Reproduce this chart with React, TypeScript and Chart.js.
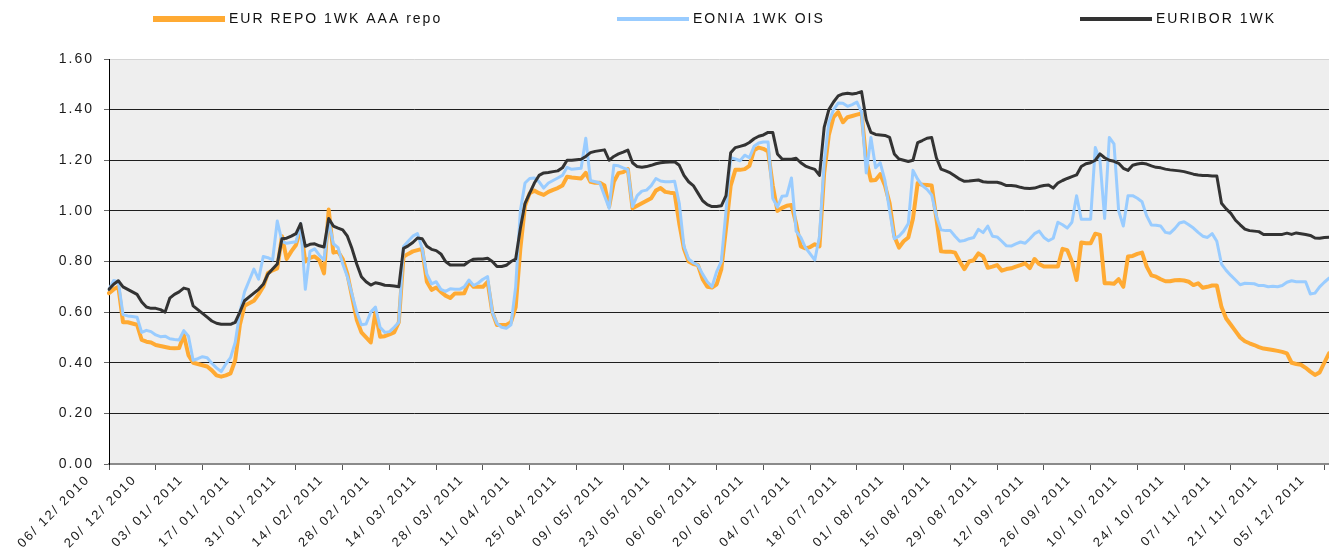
import React, { useEffect, useRef } from "react";
import { Chart, registerables } from "chart.js";

Chart.register(...registerables);

const tickLabels = [
  "06/ 12/ 2010", "20/ 12/ 2010", "03/ 01/ 2011", "17/ 01/ 2011", "31/ 01/ 2011",
  "14/ 02/ 2011", "28/ 02/ 2011", "14/ 03/ 2011", "28/ 03/ 2011", "11/ 04/ 2011",
  "25/ 04/ 2011", "09/ 05/ 2011", "23/ 05/ 2011", "06/ 06/ 2011", "20/ 06/ 2011",
  "04/ 07/ 2011", "18/ 07/ 2011", "01/ 08/ 2011", "15/ 08/ 2011", "29/ 08/ 2011",
  "12/ 09/ 2011", "26/ 09/ 2011", "10/ 10/ 2011", "24/ 10/ 2011", "07/ 11/ 2011",
  "21/ 11/ 2011", "05/ 12/ 2011",
];

const seriesNames = ["EUR REPO 1WK AAA repo", "EONIA 1WK OIS", "EURIBOR 1WK"];

const repo = [
  0.675, 0.69, 0.70, 0.56, 0.56, 0.555, 0.55, 0.49, 0.483, 0.48,
  0.47, 0.466, 0.462, 0.458, 0.457, 0.458, 0.51, 0.43, 0.40, 0.395,
  0.39, 0.385, 0.37, 0.35, 0.345, 0.35, 0.358, 0.41, 0.55, 0.625,
  0.635, 0.645, 0.67, 0.70, 0.755, 0.765, 0.773, 0.90, 0.81, 0.84,
  0.865, 0.93, 0.80, 0.815, 0.82, 0.805, 0.753, 1.005, 0.835, 0.839,
  0.81, 0.75, 0.66, 0.57, 0.52, 0.50, 0.48, 0.60, 0.503, 0.505,
  0.512, 0.52, 0.56, 0.819, 0.83, 0.84, 0.845, 0.85, 0.72, 0.688,
  0.697, 0.68, 0.665, 0.656, 0.674, 0.674, 0.675, 0.72, 0.70, 0.70,
  0.70, 0.72, 0.60, 0.549, 0.549, 0.549, 0.56, 0.62, 0.85, 1.02,
  1.07, 1.08, 1.07, 1.063, 1.075, 1.083, 1.09, 1.10, 1.135, 1.132,
  1.13, 1.128, 1.15, 1.115, 1.111, 1.111, 1.10, 1.017, 1.115, 1.149,
  1.153, 1.165, 1.01, 1.02, 1.03, 1.04, 1.05, 1.08, 1.09, 1.075,
  1.072, 1.07, 0.95, 0.85, 0.80, 0.79, 0.786, 0.73, 0.70, 0.697,
  0.71, 0.77, 0.93, 1.10, 1.162, 1.162, 1.165, 1.178, 1.24, 1.25,
  1.245, 1.235, 1.10, 1.00, 1.012, 1.02, 1.023, 0.95, 0.86, 0.852,
  0.857, 0.868, 0.86, 1.15, 1.30, 1.37, 1.39, 1.35, 1.37, 1.375,
  1.38, 1.385, 1.20, 1.12, 1.122, 1.145, 1.10, 1.03, 0.90, 0.855,
  0.88, 0.895, 0.97, 1.11, 1.103, 1.102, 1.10, 0.97, 0.84, 0.839,
  0.839, 0.835, 0.80, 0.77, 0.80, 0.805, 0.832, 0.82, 0.775, 0.78,
  0.786, 0.764, 0.77, 0.773, 0.78, 0.786, 0.793, 0.774, 0.81, 0.79,
  0.78, 0.78, 0.78, 0.78, 0.85, 0.845, 0.80, 0.727, 0.875, 0.872,
  0.872, 0.91, 0.905, 0.714, 0.714, 0.712, 0.73, 0.70, 0.82, 0.822,
  0.83, 0.835, 0.78, 0.745, 0.74, 0.73, 0.722, 0.722, 0.726, 0.727,
  0.725, 0.72, 0.707, 0.714, 0.696, 0.70, 0.705, 0.705, 0.62, 0.575,
  0.55, 0.525, 0.50, 0.485, 0.477, 0.47, 0.462, 0.456, 0.453, 0.45,
  0.447, 0.443, 0.437, 0.40, 0.395, 0.392, 0.38, 0.365, 0.352, 0.362,
  0.40, 0.437,
];

const eonia = [
  0.69, 0.725, 0.72, 0.59, 0.585, 0.583, 0.58, 0.52, 0.528, 0.523,
  0.51, 0.503, 0.505, 0.495, 0.492, 0.49, 0.527, 0.505, 0.41, 0.416,
  0.424, 0.42, 0.398, 0.38, 0.365, 0.395, 0.42, 0.48, 0.60, 0.68,
  0.725, 0.77, 0.73, 0.82, 0.815, 0.806, 0.96, 0.88, 0.872, 0.875,
  0.878, 0.95, 0.69, 0.84, 0.85, 0.825, 0.806, 0.96, 0.87, 0.855,
  0.79, 0.74, 0.67, 0.60, 0.55, 0.553, 0.60, 0.62, 0.54, 0.52,
  0.523, 0.54, 0.56, 0.859, 0.88, 0.90, 0.91, 0.85, 0.75, 0.712,
  0.72, 0.69, 0.682, 0.692, 0.69, 0.69, 0.70, 0.727, 0.705, 0.715,
  0.73, 0.74, 0.60, 0.555, 0.54, 0.536, 0.55, 0.70, 1.0, 1.11,
  1.128, 1.13, 1.115, 1.09, 1.11, 1.12, 1.13, 1.14, 1.172, 1.164,
  1.166, 1.168, 1.287, 1.12, 1.115, 1.11, 1.06, 1.01, 1.18, 1.178,
  1.17, 1.163, 1.017, 1.06, 1.078, 1.082, 1.10, 1.128, 1.118, 1.115,
  1.115, 1.117, 1.03, 0.86, 0.81, 0.795, 0.785, 0.75, 0.72, 0.70,
  0.76, 0.80, 1.00, 1.21, 1.205, 1.198, 1.22, 1.21, 1.255, 1.268,
  1.272, 1.272, 1.05, 1.015, 1.058, 1.06, 1.13, 0.92, 0.895, 0.855,
  0.83, 0.806, 0.90, 1.19, 1.35, 1.40, 1.426, 1.425, 1.413, 1.42,
  1.43, 1.39, 1.15, 1.29, 1.17, 1.19, 1.12, 1.00, 0.89, 0.90,
  0.92, 0.95, 1.16, 1.125, 1.10, 1.085, 1.063, 0.98, 0.925, 0.922,
  0.922, 0.90, 0.88, 0.883, 0.89, 0.895, 0.927, 0.914, 0.94, 0.90,
  0.897, 0.88, 0.862, 0.861, 0.87, 0.877, 0.872, 0.89, 0.91, 0.92,
  0.895, 0.882, 0.892, 0.955, 0.945, 0.932, 0.955, 1.06, 0.967, 0.967,
  0.967, 1.25, 1.20, 0.97, 1.29, 1.265, 1.00, 0.94, 1.06, 1.06,
  1.05, 1.036, 0.98, 0.944, 0.943, 0.94, 0.915, 0.912, 0.93, 0.952,
  0.957, 0.945, 0.932, 0.915, 0.90, 0.895, 0.91, 0.88, 0.79, 0.765,
  0.745, 0.727, 0.708, 0.714, 0.713, 0.712, 0.705, 0.705, 0.70, 0.702,
  0.70, 0.705, 0.718, 0.724, 0.72, 0.72, 0.72, 0.672, 0.675, 0.70,
  0.718, 0.734,
];

const euribor = [
  0.69, 0.71, 0.724, 0.70, 0.69, 0.68, 0.67, 0.64, 0.62, 0.615,
  0.615, 0.61, 0.60, 0.655, 0.67, 0.68, 0.695, 0.69, 0.625, 0.61,
  0.595, 0.58, 0.565, 0.556, 0.552, 0.552, 0.552, 0.56, 0.60, 0.645,
  0.66, 0.675, 0.69, 0.71, 0.75, 0.77, 0.79, 0.89, 0.892, 0.90,
  0.91, 0.95, 0.86, 0.868, 0.87, 0.862, 0.857, 0.97, 0.94, 0.932,
  0.925, 0.90, 0.85, 0.79, 0.74, 0.72, 0.707, 0.716, 0.712, 0.706,
  0.705, 0.703, 0.70, 0.852, 0.862, 0.875, 0.893, 0.89, 0.86, 0.848,
  0.843, 0.83, 0.80, 0.786, 0.786, 0.786, 0.786, 0.80, 0.809, 0.81,
  0.81, 0.813, 0.80, 0.78, 0.78, 0.785, 0.80, 0.81, 0.93, 1.03,
  1.07, 1.11, 1.14, 1.15, 1.152, 1.155, 1.158, 1.17, 1.20, 1.20,
  1.202, 1.204, 1.215, 1.23, 1.235, 1.238, 1.241, 1.20, 1.215, 1.225,
  1.232, 1.24, 1.19, 1.175, 1.172, 1.175, 1.18, 1.186, 1.19, 1.192,
  1.193, 1.194, 1.18, 1.14, 1.115, 1.10, 1.07, 1.04, 1.025, 1.017,
  1.017, 1.02, 1.06, 1.23, 1.25, 1.255, 1.26, 1.27, 1.285, 1.295,
  1.30, 1.31, 1.31, 1.225, 1.205, 1.204, 1.204, 1.208, 1.19, 1.177,
  1.17, 1.164, 1.14, 1.33, 1.40, 1.43, 1.454, 1.462, 1.465, 1.462,
  1.465, 1.471, 1.36, 1.31, 1.302, 1.30, 1.298, 1.29, 1.225, 1.205,
  1.20, 1.195, 1.20, 1.27, 1.278, 1.287, 1.29, 1.21, 1.165, 1.158,
  1.15, 1.138, 1.125, 1.117, 1.118, 1.12, 1.122, 1.115, 1.113, 1.113,
  1.113, 1.108, 1.10, 1.10, 1.098, 1.093, 1.089, 1.088, 1.09, 1.096,
  1.10, 1.102, 1.09, 1.11, 1.12, 1.128, 1.135, 1.142, 1.175, 1.186,
  1.19, 1.20, 1.225, 1.21, 1.20, 1.196, 1.188, 1.168, 1.16, 1.18,
  1.185, 1.188, 1.185, 1.178, 1.172, 1.17, 1.165, 1.162, 1.16, 1.158,
  1.155, 1.15, 1.145, 1.142, 1.14, 1.14, 1.138, 1.138, 1.03, 1.008,
  0.99, 0.963, 0.945, 0.928, 0.922, 0.92, 0.918, 0.907, 0.907, 0.907,
  0.907, 0.907, 0.912, 0.907, 0.913, 0.91, 0.907, 0.903, 0.893, 0.892,
  0.895, 0.896,
];

const W = 1329;
const H = 553;
const FONT = "'Liberation Sans', Arial, sans-serif";
const SPACING = "2px";
const legendX = [153, 617, 1080];
const legendLineWidth = [6, 4, 4];

export default function App() {
  const ref = useRef<HTMLCanvasElement | null>(null);

  useEffect(() => {
    const canvas = ref.current;
    if (!canvas) return;
    const labels = repo.map((_, i) => (i % 10 === 0 && tickLabels[i / 10] ? tickLabels[i / 10] : ""));

    const spacingPlugin = {
      id: "spacing",
      beforeUpdate(c: any) {
        c.ctx.letterSpacing = SPACING;
      },
      beforeDraw(c: any) {
        c.ctx.letterSpacing = SPACING;
        const a = c.chartArea;
        c.ctx.save();
        c.ctx.fillStyle = "#eeeeee";
        c.ctx.fillRect(a.left, a.top, a.right - a.left, a.bottom - a.top);
        c.ctx.restore();
      },
    };

    const legendPlugin = {
      id: "customLegend",
      afterDraw(c: any) {
        const ctx = c.ctx;
        ctx.save();
        c.data.datasets.forEach((ds: any, i: number) => {
          const x = legendX[i];
          const y = 19;
          ctx.strokeStyle = ds.borderColor;
          ctx.lineWidth = legendLineWidth[i];
          ctx.beginPath();
          ctx.moveTo(x, y);
          ctx.lineTo(x + 72, y);
          ctx.stroke();
          ctx.letterSpacing = SPACING;
          ctx.fillStyle = "#111111";
          ctx.font = `14px ${FONT}`;
          ctx.textBaseline = "middle";
          ctx.textAlign = "left";
          ctx.fillText(ds.label, x + 76, y);
        });
        ctx.restore();
      },
    };

    const chart = new Chart(canvas, {
      type: "line",
      data: {
        labels,
        datasets: [
          { label: seriesNames[0], data: repo, borderColor: "#FFAA33", borderWidth: 4, order: 3 },
          { label: seriesNames[1], data: eonia, borderColor: "#99CCFF", borderWidth: 3, order: 2 },
          { label: seriesNames[2], data: euribor, borderColor: "#333333", borderWidth: 3, order: 1 },
        ],
      },
      options: {
        responsive: false,
        animation: false,
        layout: { padding: { top: 59, left: 0, right: 0, bottom: 0 } },
        elements: {
          point: { radius: 0, hoverRadius: 0 },
          line: { tension: 0, borderJoinStyle: "round", borderCapStyle: "round" },
        },
        plugins: { legend: { display: false }, tooltip: { enabled: false } },
        scales: {
          x: {
            type: "category",
            offset: false,
            grid: {
              drawOnChartArea: false,
              drawTicks: true,
              tickLength: 6,
              tickColor: (ctx: any) => (ctx.index % 10 === 0 ? "#555555" : "rgba(0,0,0,0)"),
            },
            border: { color: "#8a8a8a", width: 2 },
            ticks: {
              autoSkip: false,
              minRotation: 45,
              maxRotation: 45,
              labelOffset: -21,
              padding: 2,
              color: "#1a1a1a",
              font: { family: FONT, size: 13 },
            },
            afterFit(s: any) {
              s.height = H - 464;
              s.paddingLeft = 0;
              s.paddingRight = 0;
            },
          },
          y: {
            min: 0,
            max: 1.6,
            ticks: {
              stepSize: 0.2,
              callback: (v: any) => Number(v).toFixed(2),
              padding: 10,
              color: "#1a1a1a",
              font: { family: FONT, size: 14 },
            },
            grid: {
              color: (ctx: any) => (ctx.tick && ctx.tick.value > 1.59 ? "#d4d4d4" : "#1e1e1e"),
              lineWidth: 1,
              tickLength: 5,
              tickColor: "#666666",
            },
            border: { color: "#000000", width: 1 },
            afterFit(s: any) {
              s.width = 109;
            },
          },
        },
      },
      plugins: [spacingPlugin, legendPlugin],
    } as any);

    return () => chart.destroy();
  }, []);

  return (
    <div style={{ position: "fixed", left: 0, top: 0, width: W, height: H, background: "#ffffff" }}>
      <canvas ref={ref} width={W} height={H} style={{ display: "block" }} />
    </div>
  );
}
